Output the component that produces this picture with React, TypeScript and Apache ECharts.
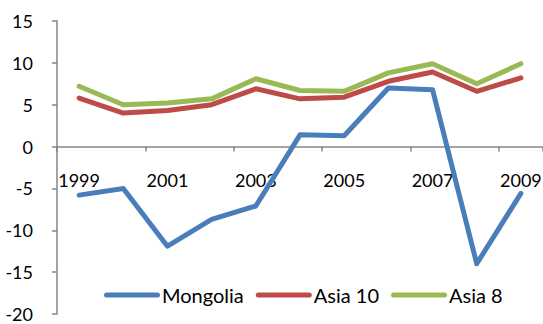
import React, { useEffect, useRef } from "react";
import * as echarts from "echarts";

// Annual growth rates (%), 1999–2009
const years = ["1999", "2000", "2001", "2002", "2003", "2004", "2005", "2006", "2007", "2008", "2009"];
const mongolia = [-5.8, -5.0, -11.9, -8.7, -7.1, 1.4, 1.3, 7.0, 6.8, -14.0, -5.6];
const asia10 = [5.8, 4.0, 4.3, 5.0, 6.9, 5.7, 5.9, 7.8, 8.9, 6.6, 8.2];
const asia8 = [7.2, 5.0, 5.2, 5.7, 8.1, 6.7, 6.6, 8.8, 9.9, 7.5, 9.9];

const FONT = "Lato, 'Noto Sans', sans-serif";
const AXIS_GREY = "#868686";
const PILL = "path://M2.5,0 H53.5 A2.5,2.5 0 0 1 53.5,5 H2.5 A2.5,2.5 0 0 1 2.5,0 Z";

export default function App() {
  const ref = useRef<HTMLDivElement>(null);

  useEffect(() => {
    document.body.style.margin = "0";
    const chart = echarts.init(ref.current!, null, { renderer: "svg" });
    const mkSeries = (name: string, data: number[], color: string) => ({
      name,
      type: "line",
      data,
      symbol: "none",
      showSymbol: false,
      smooth: false,
      color,
      itemStyle: { color },
      lineStyle: { color, width: 5, cap: "round", join: "round" },
    });
    chart.setOption({
      animation: false,
      textStyle: { fontFamily: FONT },
      grid: { left: 57, right: 0, top: 21, bottom: 10, containLabel: false, outerBoundsMode: "none" },
      legend: {
        bottom: 14,
        left: 99,
        icon: PILL,
        itemWidth: 56,
        itemHeight: 5,
        itemGap: 12,
        textStyle: { fontFamily: FONT, fontSize: 20, color: "#000", padding: [0, 0, 0, -3] },
        data: ["Mongolia", "Asia 10", "Asia 8"],
      },
      xAxis: {
        type: "category",
        data: years,
        boundaryGap: true,
        axisLine: { show: true, onZero: true, onZeroAxisIndex: 0, lineStyle: { color: AXIS_GREY, width: 1.5 } },
        axisTick: { show: true, interval: 1, length: 5, inside: false, lineStyle: { color: AXIS_GREY, width: 1.5 } },
        // labels sit just beneath the zero line, above the negative region
        axisLabel: { interval: 1, margin: -143, fontFamily: FONT, fontSize: 18, color: "#000" },
        splitLine: { show: false },
      },
      yAxis: {
        type: "value",
        min: -20,
        max: 15,
        interval: 5,
        axisLine: { show: true, onZero: false, lineStyle: { color: AXIS_GREY, width: 1.5 } },
        axisTick: { show: true, length: 5, lineStyle: { color: AXIS_GREY, width: 1.5 } },
        axisLabel: { margin: 24, fontFamily: FONT, fontSize: 18, color: "#000" },
        splitLine: { show: false },
      },
      series: [
        mkSeries("Mongolia", mongolia, "#4A7EBB"),
        mkSeries("Asia 10", asia10, "#BE4B48"),
        mkSeries("Asia 8", asia8, "#98B954"),
      ],
    });
    return () => chart.dispose();
  }, []);

  return <div ref={ref} style={{ width: 543, height: 324 }} />;
}
